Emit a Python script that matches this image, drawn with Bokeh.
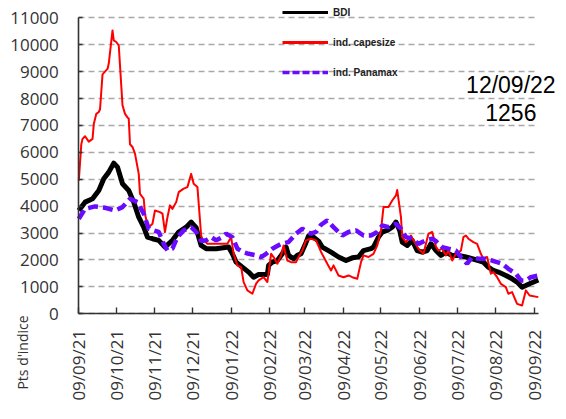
import math
import pandas as pd
from bokeh.plotting import figure
from bokeh.models import (Range1d, FixedTicker, DatetimeTickFormatter, Legend,
                          LegendItem, Label)
from bokeh.embed import file_html
from bokeh.resources import INLINE

# ---------------- data ----------------
bdi_dates = [
    "2021-09-09", "2021-09-14", "2021-09-20", "2021-09-25", "2021-09-29",
    "2021-10-03", "2021-10-07", "2021-10-10", "2021-10-14", "2021-10-19", "2021-10-23", "2021-10-27", "2021-10-31",
    "2021-11-03", "2021-11-07", "2021-11-12", "2021-11-17", "2021-11-23", "2021-11-28",
    "2021-12-04", "2021-12-08", "2021-12-12", "2021-12-14", "2021-12-16", "2021-12-20", "2021-12-28",
    "2022-01-07", "2022-01-10", "2022-01-13", "2022-01-18", "2022-01-23", "2022-01-27", "2022-01-31",
    "2022-02-07", "2022-02-08", "2022-02-11", "2022-02-15", "2022-02-19", "2022-02-22", "2022-02-24", "2022-02-28",
    "2022-03-03", "2022-03-06", "2022-03-10", "2022-03-12", "2022-03-16", "2022-03-20", "2022-03-23", "2022-03-30",
    "2022-04-05", "2022-04-11", "2022-04-16", "2022-04-21", "2022-04-25",
    "2022-05-01", "2022-05-03", "2022-05-07", "2022-05-10", "2022-05-14", "2022-05-18", "2022-05-21", "2022-05-24", "2022-05-26", "2022-05-30",
    "2022-06-03", "2022-06-07", "2022-06-11", "2022-06-15", "2022-06-18", "2022-06-22", "2022-06-26", "2022-06-30",
    "2022-07-05", "2022-07-10", "2022-07-16", "2022-07-21", "2022-07-26", "2022-07-30",
    "2022-08-03", "2022-08-07", "2022-08-11", "2022-08-17", "2022-08-22", "2022-08-26", "2022-08-30",
    "2022-09-02", "2022-09-05", "2022-09-12",
]
bdi_values = [
    3840, 4150, 4275, 4585, 5020,
    5265, 5600, 5450, 4830, 4585, 4150, 3590, 3220,
    2850, 2790, 2730, 2480, 2730, 3040,
    3220, 3410, 3200, 2850, 2540, 2420, 2420,
    2480, 2230, 1920, 1735, 1550, 1360, 1460,
    1460, 1800, 1920, 1980, 2230, 2480, 2170, 2045,
    2170, 2230, 2650, 2900, 2850, 2700, 2480, 2290,
    2110, 1980, 2080, 2110, 2350,
    2420, 2480, 2850, 3040, 3100, 3220, 3410, 3100, 2665, 2540,
    2730, 2350, 2290, 2350, 2600, 2350, 2170, 2290,
    2170, 2170, 2110, 2045, 1980, 1920,
    1735, 1610, 1550, 1425, 1300, 1180, 990,
    1050, 1115, 1256,
]

cape_dates = [
    "2021-09-09", "2021-09-11", "2021-09-12", "2021-09-14", "2021-09-17", "2021-09-20", "2021-09-21", "2021-09-23", "2021-09-25", "2021-09-26", "2021-09-28",
    "2021-10-02", "2021-10-03", "2021-10-06", "2021-10-07", "2021-10-09", "2021-10-11", "2021-10-14", "2021-10-16", "2021-10-18", "2021-10-19", "2021-10-20", "2021-10-22", "2021-10-24", "2021-10-27", "2021-10-28", "2021-10-31",
    "2021-11-01", "2021-11-03", "2021-11-04", "2021-11-07", "2021-11-09", "2021-11-13", "2021-11-15", "2021-11-17", "2021-11-19", "2021-11-21", "2021-11-23", "2021-11-26", "2021-11-28",
    "2021-12-02", "2021-12-05", "2021-12-08", "2021-12-10", "2021-12-13", "2021-12-16", "2021-12-17", "2021-12-18", "2021-12-21", "2021-12-28",
    "2022-01-06", "2022-01-09", "2022-01-11", "2022-01-14", "2022-01-17", "2022-01-19", "2022-01-22", "2022-01-26", "2022-01-29", "2022-01-31",
    "2022-02-04", "2022-02-07", "2022-02-10", "2022-02-12", "2022-02-15", "2022-02-18", "2022-02-20", "2022-02-23", "2022-02-26",
    "2022-03-02", "2022-03-04", "2022-03-07", "2022-03-10", "2022-03-14", "2022-03-18", "2022-03-22", "2022-03-27", "2022-03-30",
    "2022-04-01", "2022-04-05", "2022-04-09", "2022-04-13", "2022-04-16", "2022-04-20", "2022-04-23", "2022-04-25", "2022-04-29",
    "2022-05-03", "2022-05-06", "2022-05-09", "2022-05-11", "2022-05-15", "2022-05-18", "2022-05-21", "2022-05-22", "2022-05-25", "2022-05-26", "2022-05-29",
    "2022-06-02", "2022-06-04", "2022-06-08", "2022-06-12", "2022-06-16", "2022-06-19", "2022-06-22", "2022-06-24", "2022-06-27", "2022-06-30",
    "2022-07-02", "2022-07-05", "2022-07-08", "2022-07-12", "2022-07-14", "2022-07-16", "2022-07-18", "2022-07-22", "2022-07-25", "2022-07-28", "2022-07-30",
    "2022-08-02", "2022-08-05", "2022-08-07", "2022-08-10", "2022-08-13", "2022-08-17", "2022-08-19", "2022-08-22", "2022-08-26", "2022-08-30",
    "2022-09-02", "2022-09-05", "2022-09-12",
]
cape_values = [
    4950, 6300, 6500, 6600, 6400, 6500, 7050, 7430, 7500, 7600, 8900,
    9100, 9300, 10530, 10160, 10100, 9970, 7750, 7430, 7300, 7250, 6300, 6200, 5950, 5200, 4460, 4275,
    3720, 3280, 3220, 3345, 3840, 3780, 3720, 3040, 3590, 4030, 3900, 4150, 4520,
    4650, 4710, 5200, 4830, 4710, 2900, 2790, 2730, 2600, 2600,
    2600, 2850, 2230, 1800, 1735, 1180, 870, 745, 1120, 1240,
    1360, 1180, 2230, 2110, 1860, 2170, 2540, 1980, 1920,
    1920, 2110, 2350, 2730, 2790, 2730, 2300, 1860, 1610,
    1800, 1425, 1360, 1425, 1360, 1300, 1920, 2170, 2110,
    2230, 2540, 3100, 3965, 3965, 4210, 4400, 4600, 3590, 2850, 2665,
    2910, 2730, 2420, 2230, 2975, 3040, 2500, 2350, 2420, 2170,
    2350, 1980, 2230, 2350, 2850, 2910, 2790, 2665, 2600, 2230, 2045,
    2110, 1490, 1550, 1360, 1115, 990, 745, 805, 370, 310,
    870, 680, 620,
]

pana_dates = [
    "2021-09-09", "2021-09-14", "2021-09-22", "2021-09-30",
    "2021-10-08", "2021-10-14", "2021-10-20", "2021-10-26", "2021-10-31",
    "2021-11-04", "2021-11-08", "2021-11-12", "2021-11-16", "2021-11-19", "2021-11-23", "2021-11-27",
    "2021-12-02", "2021-12-08", "2021-12-12", "2021-12-16", "2021-12-20", "2021-12-24", "2021-12-28",
    "2022-01-02", "2022-01-05", "2022-01-10", "2022-01-14", "2022-01-19", "2022-01-23", "2022-01-29",
    "2022-02-02", "2022-02-06", "2022-02-11", "2022-02-18", "2022-02-24",
    "2022-03-02", "2022-03-07", "2022-03-14", "2022-03-18", "2022-03-22", "2022-03-27",
    "2022-04-01", "2022-04-08", "2022-04-13", "2022-04-19", "2022-04-25",
    "2022-05-01", "2022-05-06", "2022-05-10", "2022-05-15", "2022-05-21", "2022-05-25", "2022-05-29",
    "2022-06-03", "2022-06-08", "2022-06-14", "2022-06-19", "2022-06-22", "2022-06-27",
    "2022-07-02", "2022-07-08", "2022-07-13", "2022-07-17", "2022-07-21", "2022-07-26",
    "2022-08-01", "2022-08-06", "2022-08-10", "2022-08-14", "2022-08-19", "2022-08-25", "2022-08-29",
    "2022-09-02", "2022-09-06", "2022-09-12",
]
pana_values = [
    3530, 3900, 3990, 3940,
    3840, 3965, 4275, 4150, 3720,
    3160, 3100, 3040, 2600, 2350, 2420, 2850,
    3100, 3220, 3040, 2700, 2730, 2850, 2730,
    2850, 2975, 2850, 2420, 2290, 2230, 2170,
    2110, 2230, 2420, 2600, 2665,
    2975, 3160, 2975, 3040, 3310, 3470,
    3220, 2910, 3040, 3100, 2910,
    2910, 3040, 3280, 3220, 3345, 3160, 2850,
    2790, 2600, 2730, 2790, 2700, 2480,
    2420, 2350, 2045, 1860, 2110, 2045,
    2045, 1980, 1920, 1860, 1670, 1490, 1240,
    1240, 1360, 1425,
]

series_names = ["BDI", "ind. capesize", "ind. Panamax"]
tick_dates = ["2021-09-09", "2021-10-09", "2021-11-09", "2021-12-09", "2022-01-09",
              "2022-02-09", "2022-03-09", "2022-04-09", "2022-05-09", "2022-06-09",
              "2022-07-09", "2022-08-09", "2022-09-09"]
y_ticks = [0, 1000, 2000, 3000, 4000, 5000, 6000, 7000, 8000, 9000, 10000, 11000]
last_date_label = "12/09/22"
last_value_label = "1256"
y_title = "Pts d'indice"


def ms(s):
    return pd.Timestamp(s).timestamp() * 1000.0


# ---------------- layout constants ----------------
W, H = 562, 412
DAY = 86400000.0
X0, X1 = ms("2021-09-09"), ms("2022-09-12")   # extent of the drawn x axis
Y0, Y1 = 0, 11000                            # extent of the drawn y axis
AX_LEFT, AX_BOTTOM = 78.3, 313.3             # pixel position of the axes
PX_PER_DAY = 1.2487
PX_PER_UNIT = 0.026909

# The frame covers the whole canvas; axes are drawn at fixed locations with bounds,
# so nothing that sits outside the axes (legend, notes, y title) gets clipped.
x_start = X0 - AX_LEFT / PX_PER_DAY * DAY
x_end = X0 + (W - AX_LEFT) / PX_PER_DAY * DAY
y_end = AX_BOTTOM / PX_PER_UNIT
y_start = -(H - AX_BOTTOM) / PX_PER_UNIT

p = figure(width=W, height=H, output_backend="svg", toolbar_location=None,
           title_location=None, x_axis_type="datetime",
           x_range=Range1d(start=x_start, end=x_end),
           y_range=Range1d(start=y_start, end=y_end),
           min_border_left=0, min_border_right=0, min_border_top=0, min_border_bottom=0)
p.outline_line_color = None
p.background_fill_color = "white"
p.border_fill_color = "white"

BLUE = "#6a0aff"
NAN = [float("nan")]

p.line(pd.to_datetime(bdi_dates), bdi_values, line_color="black", line_width=5, line_join="round")
p.line(pd.to_datetime(cape_dates), cape_values, line_color="#ff0000", line_width=2, line_join="round")
p.line(pd.to_datetime(pana_dates), pana_values, line_color=BLUE, line_width=4.5, line_dash="10 5")

# legend-only renderers (thinner strokes, as in the reference legend)
lb = p.line(NAN, NAN, line_color="black", line_width=3)
lr = p.line(NAN, NAN, line_color="#ff0000", line_width=3)
lp = p.line(NAN, NAN, line_color=BLUE, line_width=3.5, line_dash="7 3")

legend = Legend(items=[LegendItem(label=series_names[0], renderers=[lb]),
                       LegendItem(label=series_names[1], renderers=[lr]),
                       LegendItem(label=series_names[2], renderers=[lp])],
                location=(282, H - 78), glyph_width=46, glyph_height=12, label_height=12,
                label_standoff=5, spacing=18, padding=0, margin=0,
                background_fill_alpha=0, border_line_alpha=0,
                label_text_font="Liberation Sans", label_text_font_style="bold",
                label_text_font_size="10px", label_text_color="#222222")
p.add_layout(legend)

# axes
p.xaxis.ticker = FixedTicker(ticks=[ms(d) for d in tick_dates])
p.xaxis.formatter = DatetimeTickFormatter(days="%d/%m/%y", months="%d/%m/%y",
                                          years="%d/%m/%y", hours="%d/%m/%y")
p.xaxis.major_label_orientation = math.pi / 2
p.yaxis.ticker = FixedTicker(ticks=y_ticks)
p.xaxis.bounds = (X0, X1)
p.yaxis.bounds = (Y0, Y1)
p.xaxis.fixed_location = Y0
p.yaxis.fixed_location = X0
for ax in (p.xaxis[0], p.yaxis[0]):
    ax.axis_line_color = "#333333"
    ax.axis_line_width = 1.6
    ax.major_tick_line_color = "#333333"
    ax.major_tick_line_width = 1.4
    ax.minor_tick_line_color = None
    ax.major_tick_out = 0
    ax.major_label_text_font = "Open Sans"
    ax.major_label_text_color = "#333333"
    ax.major_label_text_font_size = "17px"
p.xaxis.major_tick_in = 6
p.yaxis.major_tick_in = 4
p.xaxis.major_label_standoff = 16
p.yaxis.major_label_standoff = 20

p.xgrid.visible = False
p.ygrid.grid_line_color = "#a8a8a8"
p.ygrid.grid_line_dash = "6 4"
p.ygrid.grid_line_width = 1.3
p.ygrid.bounds = (Y0, Y1)
if "cross_bounds" in p.ygrid[0].properties():
    p.ygrid[0].cross_bounds = (X0, X1)

# annotations
p.add_layout(Label(x=ms("2022-08-21"), y=8490, text=last_date_label, text_align="center",
                   text_baseline="middle", text_font="Liberation Sans",
                   text_font_size="23px", text_color="black"))
p.add_layout(Label(x=ms("2022-08-21"), y=7470, text=last_value_label, text_align="center",
                   text_baseline="middle", text_font="Liberation Sans",
                   text_font_size="23px", text_color="black"))
p.add_layout(Label(x=22, y=H - 352, x_units="screen", y_units="screen", text=y_title,
                   angle=math.pi / 2, text_align="center", text_baseline="middle",
                   text_font="Open Sans", text_font_size="14px", text_color="#333333"))

open("out.html", "w").write(file_html(p, INLINE))
